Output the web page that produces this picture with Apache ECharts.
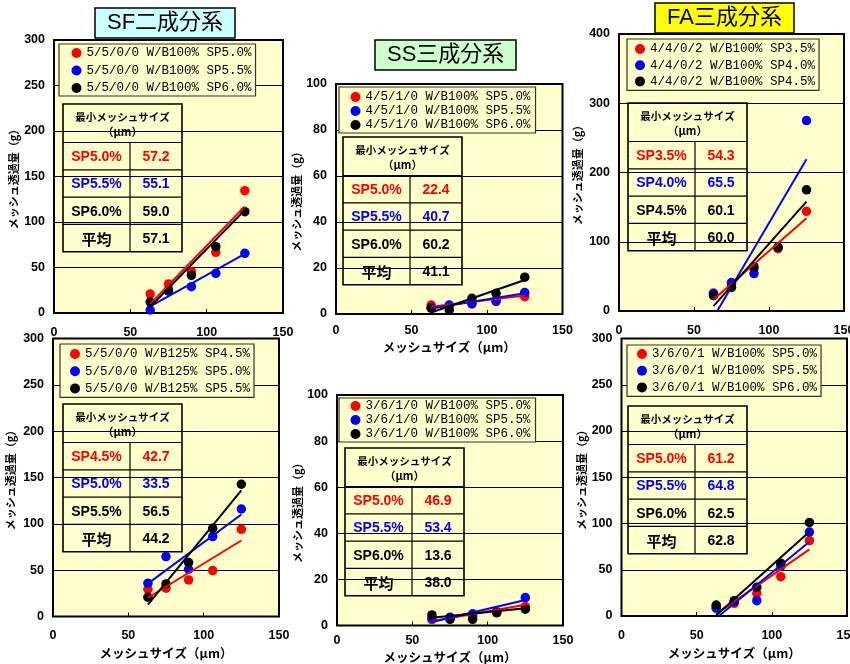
<!DOCTYPE html>
<html>
<head>
<meta charset="utf-8">
<script src="https://cdn.jsdelivr.net/npm/echarts@6/dist/echarts.min.js"></script>
<style>
html, body { margin: 0; padding: 0; background: #fff; }
#chart { width: 850px; height: 664px; }
</style>
</head>
<body>
<div id="chart"></div>
<script>
// Mesh sizes (µm) tested in every mix
const meshSize = [63, 75, 90, 106, 125];

// SF 二成分系, W/B100%
const sfTopNames = ['5/5/0/0 W/B100% SP5.0%', '5/5/0/0 W/B100% SP5.5%', '5/5/0/0 W/B100% SP6.0%'];
const sfTopRed = [20.9, 31.9, 45.4, 66.7, 134.4];
const sfTopBlue = [3.3, 24.0, 28.9, 43.6, 65.6];
const sfTopBlack = [12.1, 25.3, 41.4, 72.9, 111.3];
const sfTopSp = ['SP5.0%', 'SP5.5%', 'SP6.0%'];
const sfTopMinMesh = [57.2, 55.1, 59.0];
const sfTopAverage = 57.1;
const sfTopFitAt125 = [117, 65, 113];

// SS 三成分系, W/B100%
const ssTopNames = ['4/5/1/0 W/B100% SP5.0%', '4/5/1/0 W/B100% SP5.5%', '4/5/1/0 W/B100% SP6.0%'];
const ssTopRed = [3.9, 3.5, 4.3, 5.4, 7.5];
const ssTopBlue = [2.8, 3.9, 4.6, 5.8, 9.3];
const ssTopBlack = [2.5, 1.7, 6.8, 9.0, 16.0];
const ssTopSp = ['SP5.0%', 'SP5.5%', 'SP6.0%'];
const ssTopMinMesh = [22.4, 40.7, 60.2];
const ssTopAverage = 41.1;
const ssTopFitAt125 = [8.0, 9.0, 14.8];

// FA 三成分系, W/B100%
const faTopNames = ['4/4/0/2 W/B100% SP3.5%', '4/4/0/2 W/B100% SP4.0%', '4/4/0/2 W/B100% SP4.5%'];
const faTopRed = [26, 40, 61, 90, 144];
const faTopBlue = [25, 41, 54, 92, 275];
const faTopBlack = [22, 34, 64, 92, 175];
const faTopSp = ['SP3.5%', 'SP4.0%', 'SP4.5%'];
const faTopMinMesh = [54.3, 65.5, 60.1];
const faTopAverage = 60.0;
const faTopFitAt125 = [134, 219, 158];

// SF 二成分系, W/B125%
const sfBottomNames = ['5/5/0/0 W/B125% SP4.5%', '5/5/0/0 W/B125% SP5.0%', '5/5/0/0 W/B125% SP5.5%'];
const sfBottomRed = [29.5, 30.5, 39.5, 49.6, 94.1];
const sfBottomBlue = [35.9, 64.7, 51.0, 86.2, 116.0];
const sfBottomBlack = [20.8, 35.2, 58.2, 95.2, 142.7];
const sfBottomSp = ['SP4.5%', 'SP5.0%', 'SP5.5%'];
const sfBottomMinMesh = [42.7, 33.5, 56.5];
const sfBottomAverage = 44.2;
const sfBottomFitAt125 = [82, 110, 136];

// SS 三成分系, 3/6/1/0
const ssBottomNames = ['3/6/1/0 W/B100% SP5.0%', '3/6/1/0 W/B100% SP5.5%', '3/6/1/0 W/B100% SP6.0%'];
const ssBottomRed = [2.5, 3.0, 4.0, 5.5, 8.2];
const ssBottomBlue = [3.2, 3.6, 5.1, 6.0, 12.1];
const ssBottomBlack = [4.6, 2.7, 2.7, 5.6, 7.1];
const ssBottomSp = ['SP5.0%', 'SP5.5%', 'SP6.0%'];
const ssBottomMinMesh = [46.9, 53.4, 13.6];
const ssBottomAverage = 38.0;
const ssBottomFitAt125 = [9.0, 11.1, 7.5];

// FA 三成分系, 3/6/0/1
const faBottomNames = ['3/6/0/1 W/B100% SP5.0%', '3/6/0/1 W/B100% SP5.5%', '3/6/0/1 W/B100% SP6.0%'];
const faBottomRed = [10.1, 13.7, 24.5, 42.5, 81.4];
const faBottomBlue = [8.3, 15.5, 16.6, 54.0, 90.7];
const faBottomBlack = [11.9, 16.6, 31.0, 56.9, 101.2];
const faBottomSp = ['SP5.0%', 'SP5.5%', 'SP6.0%'];
const faBottomMinMesh = [61.2, 64.8, 62.5];
const faBottomAverage = 62.8;
const faBottomFitAt125 = [72, 80.3, 91.1];

const xTicks = [0, 50, 100, 150];
const colors = ['#FF0000', '#0000FF', '#000000'];

const panels = [
  { names: sfTopNames, values: [sfTopRed, sfTopBlue, sfTopBlack], sp: sfTopSp, minMesh: sfTopMinMesh, avg: sfTopAverage, fitEnd: sfTopFitAt125, yMax: 300, yStep: 50 },
  { names: ssTopNames, values: [ssTopRed, ssTopBlue, ssTopBlack], sp: ssTopSp, minMesh: ssTopMinMesh, avg: ssTopAverage, fitEnd: ssTopFitAt125, yMax: 100, yStep: 20 },
  { names: faTopNames, values: [faTopRed, faTopBlue, faTopBlack], sp: faTopSp, minMesh: faTopMinMesh, avg: faTopAverage, fitEnd: faTopFitAt125, yMax: 400, yStep: 100 },
  { names: sfBottomNames, values: [sfBottomRed, sfBottomBlue, sfBottomBlack], sp: sfBottomSp, minMesh: sfBottomMinMesh, avg: sfBottomAverage, fitEnd: sfBottomFitAt125, yMax: 300, yStep: 50 },
  { names: ssBottomNames, values: [ssBottomRed, ssBottomBlue, ssBottomBlack], sp: ssBottomSp, minMesh: ssBottomMinMesh, avg: ssBottomAverage, fitEnd: ssBottomFitAt125, yMax: 100, yStep: 20 },
  { names: faBottomNames, values: [faBottomRed, faBottomBlue, faBottomBlack], sp: faBottomSp, minMesh: faBottomMinMesh, avg: faBottomAverage, fitEnd: faBottomFitAt125, yMax: 300, yStep: 50 }
];

// Placement of each panel on the page
const layout = [
  { grid: [54, 40, 229, 273],       legend: [59, 44, [2, 4, 1, 12.5], 3.5],  table: [63, 104],  yNameGap: 35, xLabelMargin: 13, xNameGap: null },
  { grid: [336, 84, 226.5, 230],    legend: [339, 87, [3, 5, 1, 11.5], 0],   table: [343, 137], yNameGap: 28, xLabelMargin: 10, xNameGap: 27 },
  { grid: [619, 34, 225, 277],      legend: [627, 39, [3, 4, 2, 8], 2.2],    table: [628, 103], yNameGap: 36, xLabelMargin: 13, xNameGap: null },
  { grid: [53, 338.5, 226, 278],    legend: [60, 344, [3, 4, 2, 10], 3.2],   table: [63, 404],  yNameGap: 37, xLabelMargin: 13, xNameGap: 30 },
  { grid: [337, 395, 226, 230.5],   legend: [339, 398, [1, 5, 1, 11.5], 0], table: [345, 448], yNameGap: 31, xLabelMargin: 9,  xNameGap: 25 },
  { grid: [621.5, 338.5, 225.5, 277.5], legend: [627, 345, [2, 4, 2, 10], 2.7], table: [628, 406], yNameGap: 32, xLabelMargin: 13, xNameGap: 31 }
];

const titles = [
  { text: 'SF二成分系', left: 95, top: 8, bg: '#CCFFFF' },
  { text: 'SS三成分系', left: 375, top: 40, bg: '#CCFFCC' },
  { text: 'FA三成分系', left: 655, top: 3, bg: '#FFFF00' }
];

const tickFont = { fontFamily: '"Liberation Sans", Arial, sans-serif', fontWeight: 'bold', fontSize: 12.5, color: '#000' };
const jpFont = '"Noto Sans CJK JP", sans-serif';

// Table of minimum mesh sizes (x-intercepts of the fitted lines)
function tableGraphic(pos, sp, vals, avg) {
  const W1 = 67, W2 = 52, H0 = 38.5, HR = 27.3;
  const W = W1 + W2, H = H0 + 4 * HR;
  const children = [
    { type: 'rect', shape: { x: 0, y: 0, width: W, height: H }, style: { fill: '#FFFFCC', stroke: '#000', lineWidth: 1.6 } },
    { type: 'line', shape: { x1: W1, y1: H0, x2: W1, y2: H }, style: { stroke: '#000', lineWidth: 1.2 } }
  ];
  for (let r = 0; r < 4; r++) {
    const y = H0 + r * HR;
    children.push({ type: 'line', shape: { x1: 0, y1: y, x2: W, y2: y }, style: { stroke: '#000', lineWidth: 1.2 } });
  }
  children.push({ type: 'text', x: W / 2, y: 13, style: { text: '最小メッシュサイズ', fill: '#000', font: 'bold 10.5px ' + jpFont, align: 'center', verticalAlign: 'middle' } });
  children.push({ type: 'text', x: W / 2, y: 28, style: { text: '（μm）', fill: '#000', font: 'bold 11px ' + jpFont, align: 'center', verticalAlign: 'middle' } });
  const rowFont = 'bold 14px "Liberation Sans", Arial, sans-serif';
  for (let r = 0; r < 3; r++) {
    const cy = H0 + r * HR + HR / 2 + 1;
    children.push({ type: 'text', x: W1 / 2, y: cy, style: { text: sp[r], fill: colors[r], font: rowFont, align: 'center', verticalAlign: 'middle' } });
    children.push({ type: 'text', x: W1 + W2 / 2, y: cy, style: { text: vals[r].toFixed(1), fill: colors[r], font: rowFont, align: 'center', verticalAlign: 'middle' } });
  }
  const ay = H0 + 3 * HR + HR / 2 + 1;
  children.push({ type: 'text', x: W1 / 2, y: ay, style: { text: '平均', fill: '#000', font: 'bold 15px ' + jpFont, align: 'center', verticalAlign: 'middle' } });
  children.push({ type: 'text', x: W1 + W2 / 2, y: ay, style: { text: avg.toFixed(1), fill: '#000', font: rowFont, align: 'center', verticalAlign: 'middle' } });
  return { type: 'group', x: pos[0], y: pos[1], z: 10, children };
}

const option = {
  animation: false,
  backgroundColor: '#fff',
  title: titles.map(t => ({
    text: t.text, left: t.left, top: t.top,
    backgroundColor: t.bg, borderColor: '#000', borderWidth: 1.5,
    padding: [3, 12, 3, 12],
    textStyle: { fontFamily: '"Liberation Sans", "Noto Sans CJK JP", sans-serif', fontWeight: 'normal', fontSize: 22, lineHeight: 24, color: '#000' }
  })),
  grid: [], xAxis: [], yAxis: [], legend: [], series: [], graphic: []
};

panels.forEach((p, i) => {
  const L = layout[i];
  option.grid.push({
    left: L.grid[0], top: L.grid[1], width: L.grid[2], height: L.grid[3],
    show: true, backgroundColor: '#FFFFCC', borderColor: '#000', borderWidth: 2,
    containLabel: false, outerBoundsMode: 'none'
  });
  option.xAxis.push({
    type: 'value', gridIndex: i, min: xTicks[0], max: xTicks[xTicks.length - 1], interval: 50,
    axisLine: { show: false },
    axisTick: { show: true, inside: true, length: 4, lineStyle: { color: '#000', width: 1 } },
    splitLine: { show: false },
    axisLabel: Object.assign({ margin: L.xLabelMargin }, tickFont),
    name: L.xNameGap == null ? '' : 'メッシュサイズ（μm）',
    nameLocation: 'middle', nameGap: L.xNameGap || 0,
    nameTextStyle: { fontFamily: jpFont, fontWeight: 'bold', fontSize: 12.5, color: '#000' }
  });
  option.yAxis.push({
    type: 'value', gridIndex: i, min: 0, max: p.yMax, interval: p.yStep,
    axisLine: { show: false }, axisTick: { show: false },
    splitLine: { show: true, lineStyle: { color: '#000', width: 1 } },
    axisLabel: Object.assign({ margin: 9 }, tickFont),
    name: 'メッシュ透過量（g）', nameLocation: 'middle', nameRotate: 90, nameGap: L.yNameGap,
    nameTextStyle: { fontFamily: jpFont, fontWeight: 'bold', fontSize: 11, color: '#000' }
  });
  option.legend.push({
    data: p.names, orient: 'vertical', left: L.legend[0], top: L.legend[1],
    padding: L.legend[2], itemGap: L.legend[3], itemWidth: 10, itemHeight: 10,
    icon: 'circle', selectedMode: false,
    backgroundColor: '#FFFFCC', borderColor: '#333', borderWidth: 1.2,
    textStyle: { fontFamily: '"Liberation Mono", "DejaVu Sans Mono", monospace', fontSize: 12.5, lineHeight: 14, color: '#000' }
  });
  // measured points
  p.values.forEach((vals, k) => {
    option.series.push({
      type: 'scatter', name: p.names[k], xAxisIndex: i, yAxisIndex: i,
      symbol: 'circle', symbolSize: 9.5, itemStyle: { color: colors[k], opacity: 1 },
      data: meshSize.map((m, j) => [m, vals[j]]), z: 3
    });
  });
  // fitted lines: zero crossing at the minimum mesh size, drawn over the tested range
  p.minMesh.forEach((x0, k) => {
    const xEnd = meshSize[meshSize.length - 1];
    const xStart = Math.max(meshSize[0], x0);
    const slope = p.fitEnd[k] / (xEnd - x0);
    option.series.push({
      type: 'line', xAxisIndex: i, yAxisIndex: i, silent: true,
      showSymbol: false, symbol: 'none', lineStyle: { color: colors[k], width: 2 },
      data: [[xStart, slope * (xStart - x0)], [xEnd, p.fitEnd[k]]], z: 4
    });
  });
  option.graphic.push(tableGraphic(L.table, p.sp, p.minMesh, p.avg));
});

const chart = echarts.init(document.getElementById('chart'), null, { renderer: 'canvas' });
chart.setOption(option);
</script>
</body>
</html>
